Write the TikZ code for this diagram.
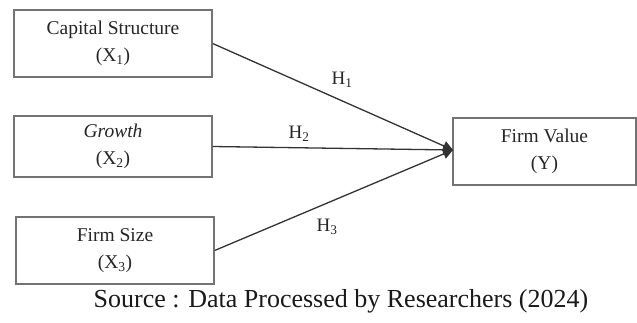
\documentclass[tikz,border=0pt]{standalone}
\usepackage{fontspec}
\setmainfont{Liberation Serif}
\usetikzlibrary{arrows.meta}
\begin{document}
\begin{tikzpicture}[x=1pt,y=-1pt,
  varbox/.style={draw=black!55,line width=1.3pt,fill=white,inner sep=0pt,align=center,
    font=\fontsize{19.5}{27}\selectfont,text=black!85},
  link/.style={draw=black!80,line width=1.3pt},
  hlab/.style={font=\fontsize{19}{21}\selectfont,text=black!85}]
\useasboundingbox (0,0) rectangle (637,322);
\node[varbox,minimum width=198pt,minimum height=67pt] (x1) at (113,43.5) {Capital Structure\\(X\textsubscript{1})};
\node[varbox,minimum width=198pt,minimum height=61pt] (x2) at (113,146.5) {\textit{Growth}\\(X\textsubscript{2})};
\node[varbox,minimum width=198pt,minimum height=67pt] (x3) at (115,250.5) {Firm Size\\(X\textsubscript{3})};
\node[varbox,minimum width=183pt,minimum height=67pt] (y) at (544.5,151.5) {Firm Value\\(Y)};
\coordinate (tip) at (453,150);
\draw[link,-{Triangle[length=10pt,width=10pt]}] (x1.east) -- (tip);
\draw[link,-{Triangle[length=10pt,width=10pt]}] (x2.east) -- (tip);
\draw[link,-{Triangle[length=10pt,width=10pt]}] (x3.east) -- (tip);
\node[hlab] (h1) at (342,80) {H\textsubscript{1}};
\node[hlab] (h2) at (299,134) {H\textsubscript{2}};
\node[hlab] (h3) at (327,227) {H\textsubscript{3}};
\node[font=\fontsize{26}{28}\selectfont,text=black!90] (src) at (341,301) {Source : Data Processed by Researchers (2024)};
\end{tikzpicture}
\end{document}
